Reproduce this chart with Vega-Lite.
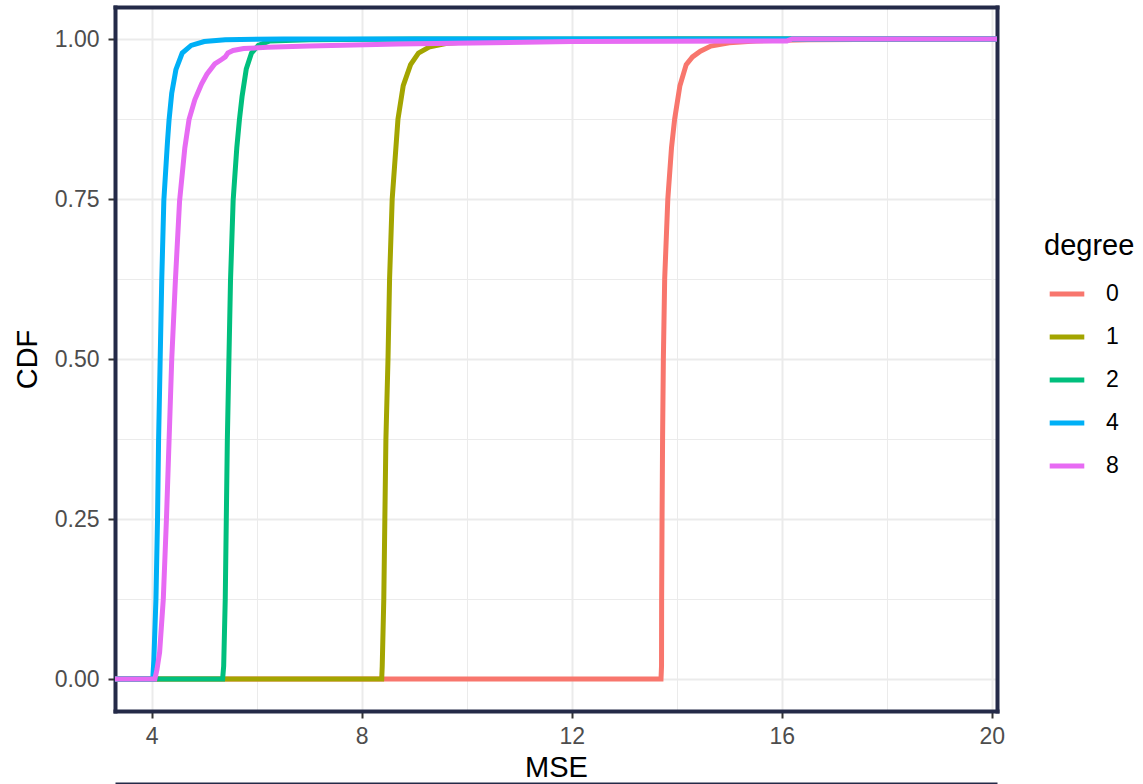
{
  "$schema": "https://vega.github.io/schema/vega-lite/v6.json",
  "width": 882,
  "height": 704,
  "autosize": "none",
  "padding": {"left": 115, "top": 7, "right": 146, "bottom": 73},
  "background": "white",
  "config": {
    "font": "Liberation Sans",
    "view": {"stroke": null},
    "axis": {
      "labelFont": "Liberation Sans",
      "titleFont": "Liberation Sans",
      "labelFontSize": 23,
      "labelColor": "#4d4d4d",
      "titleFontSize": 29,
      "titleFontWeight": "normal",
      "titleColor": "#000000",
      "domain": true,
      "domainColor": "#242a48",
      "domainWidth": 4,
      "domainCap": "square",
      "tickWidth": 2,
      "tickSize": 7,
      "gridColor": "#ebebeb",
      "zindex": 1
    },
    "legend": {
      "labelFont": "Liberation Sans",
      "titleFont": "Liberation Sans"
    }
  },
  "data": {
    "values": [
      {"degree": "0", "MSE": 3.0, "CDF": 0},
      {"degree": "0", "MSE": 13.70, "CDF": 0},
      {"degree": "0", "MSE": 13.71, "CDF": 0.02},
      {"degree": "0", "MSE": 13.712, "CDF": 0.125},
      {"degree": "0", "MSE": 13.72, "CDF": 0.25},
      {"degree": "0", "MSE": 13.73, "CDF": 0.374},
      {"degree": "0", "MSE": 13.745, "CDF": 0.5},
      {"degree": "0", "MSE": 13.77, "CDF": 0.625},
      {"degree": "0", "MSE": 13.83, "CDF": 0.75},
      {"degree": "0", "MSE": 13.90, "CDF": 0.83},
      {"degree": "0", "MSE": 13.96, "CDF": 0.875},
      {"degree": "0", "MSE": 14.06, "CDF": 0.927},
      {"degree": "0", "MSE": 14.18, "CDF": 0.96},
      {"degree": "0", "MSE": 14.30, "CDF": 0.972},
      {"degree": "0", "MSE": 14.45, "CDF": 0.981},
      {"degree": "0", "MSE": 14.65, "CDF": 0.989},
      {"degree": "0", "MSE": 15.0, "CDF": 0.994},
      {"degree": "0", "MSE": 15.5, "CDF": 0.997},
      {"degree": "0", "MSE": 16.5, "CDF": 0.999},
      {"degree": "0", "MSE": 19.3, "CDF": 1},
      {"degree": "0", "MSE": 21, "CDF": 1},
      {"degree": "1", "MSE": 3.0, "CDF": 0},
      {"degree": "1", "MSE": 8.38, "CDF": 0},
      {"degree": "1", "MSE": 8.39, "CDF": 0.02},
      {"degree": "1", "MSE": 8.42, "CDF": 0.125},
      {"degree": "1", "MSE": 8.44, "CDF": 0.25},
      {"degree": "1", "MSE": 8.46, "CDF": 0.374},
      {"degree": "1", "MSE": 8.50, "CDF": 0.5},
      {"degree": "1", "MSE": 8.53, "CDF": 0.625},
      {"degree": "1", "MSE": 8.58, "CDF": 0.75},
      {"degree": "1", "MSE": 8.69, "CDF": 0.875},
      {"degree": "1", "MSE": 8.79, "CDF": 0.927},
      {"degree": "1", "MSE": 8.93, "CDF": 0.96},
      {"degree": "1", "MSE": 9.08, "CDF": 0.978},
      {"degree": "1", "MSE": 9.3, "CDF": 0.988},
      {"degree": "1", "MSE": 9.6, "CDF": 0.993},
      {"degree": "1", "MSE": 10.2, "CDF": 0.997},
      {"degree": "1", "MSE": 11.5, "CDF": 0.999},
      {"degree": "1", "MSE": 14, "CDF": 1},
      {"degree": "1", "MSE": 21, "CDF": 1},
      {"degree": "2", "MSE": 3.0, "CDF": 0},
      {"degree": "2", "MSE": 5.35, "CDF": 0},
      {"degree": "2", "MSE": 5.37, "CDF": 0.02},
      {"degree": "2", "MSE": 5.40, "CDF": 0.125},
      {"degree": "2", "MSE": 5.42, "CDF": 0.25},
      {"degree": "2", "MSE": 5.44, "CDF": 0.374},
      {"degree": "2", "MSE": 5.47, "CDF": 0.5},
      {"degree": "2", "MSE": 5.50, "CDF": 0.622},
      {"degree": "2", "MSE": 5.55, "CDF": 0.747},
      {"degree": "2", "MSE": 5.62, "CDF": 0.83},
      {"degree": "2", "MSE": 5.67, "CDF": 0.874},
      {"degree": "2", "MSE": 5.72, "CDF": 0.91},
      {"degree": "2", "MSE": 5.80, "CDF": 0.953},
      {"degree": "2", "MSE": 5.90, "CDF": 0.978},
      {"degree": "2", "MSE": 6.03, "CDF": 0.99},
      {"degree": "2", "MSE": 6.25, "CDF": 0.997},
      {"degree": "2", "MSE": 7.0, "CDF": 0.999},
      {"degree": "2", "MSE": 9.0, "CDF": 1},
      {"degree": "2", "MSE": 21, "CDF": 1},
      {"degree": "4", "MSE": 3.0, "CDF": 0},
      {"degree": "4", "MSE": 4.02, "CDF": 0},
      {"degree": "4", "MSE": 4.04, "CDF": 0.03},
      {"degree": "4", "MSE": 4.08, "CDF": 0.125},
      {"degree": "4", "MSE": 4.11, "CDF": 0.25},
      {"degree": "4", "MSE": 4.13, "CDF": 0.373},
      {"degree": "4", "MSE": 4.16, "CDF": 0.498},
      {"degree": "4", "MSE": 4.19, "CDF": 0.622},
      {"degree": "4", "MSE": 4.23, "CDF": 0.747},
      {"degree": "4", "MSE": 4.30, "CDF": 0.84},
      {"degree": "4", "MSE": 4.33, "CDF": 0.874},
      {"degree": "4", "MSE": 4.38, "CDF": 0.915},
      {"degree": "4", "MSE": 4.46, "CDF": 0.952},
      {"degree": "4", "MSE": 4.58, "CDF": 0.978},
      {"degree": "4", "MSE": 4.75, "CDF": 0.99},
      {"degree": "4", "MSE": 5.0, "CDF": 0.996},
      {"degree": "4", "MSE": 5.4, "CDF": 0.999},
      {"degree": "4", "MSE": 6.5, "CDF": 1},
      {"degree": "4", "MSE": 21, "CDF": 1},
      {"degree": "8", "MSE": 3.0, "CDF": 0},
      {"degree": "8", "MSE": 4.06, "CDF": 0},
      {"degree": "8", "MSE": 4.10, "CDF": 0.015},
      {"degree": "8", "MSE": 4.15, "CDF": 0.042},
      {"degree": "8", "MSE": 4.22, "CDF": 0.125},
      {"degree": "8", "MSE": 4.28, "CDF": 0.25},
      {"degree": "8", "MSE": 4.33, "CDF": 0.373},
      {"degree": "8", "MSE": 4.38, "CDF": 0.498},
      {"degree": "8", "MSE": 4.45, "CDF": 0.622},
      {"degree": "8", "MSE": 4.53, "CDF": 0.747},
      {"degree": "8", "MSE": 4.63, "CDF": 0.83},
      {"degree": "8", "MSE": 4.71, "CDF": 0.874},
      {"degree": "8", "MSE": 4.82, "CDF": 0.905},
      {"degree": "8", "MSE": 4.95, "CDF": 0.93},
      {"degree": "8", "MSE": 5.05, "CDF": 0.945},
      {"degree": "8", "MSE": 5.20, "CDF": 0.961},
      {"degree": "8", "MSE": 5.33, "CDF": 0.968},
      {"degree": "8", "MSE": 5.40, "CDF": 0.972},
      {"degree": "8", "MSE": 5.45, "CDF": 0.978},
      {"degree": "8", "MSE": 5.55, "CDF": 0.982},
      {"degree": "8", "MSE": 5.75, "CDF": 0.985},
      {"degree": "8", "MSE": 6.2, "CDF": 0.987},
      {"degree": "8", "MSE": 7.0, "CDF": 0.989},
      {"degree": "8", "MSE": 8.7, "CDF": 0.992},
      {"degree": "8", "MSE": 12.0, "CDF": 0.996},
      {"degree": "8", "MSE": 16.1, "CDF": 0.997},
      {"degree": "8", "MSE": 16.2, "CDF": 1},
      {"degree": "8", "MSE": 21, "CDF": 1}
    ]
  },
  "layer": [
    {
      "mark": {"type": "line", "strokeWidth": 5, "clip": true},
      "encoding": {
        "x": {
          "field": "MSE",
          "type": "quantitative",
          "scale": {"domain": [3.30, 20.10], "nice": false, "zero": false},
          "axis": {
            "title": "MSE",
            "values": [4, 6, 8, 10, 12, 14, 16, 18, 20],
            "labelExpr": "datum.value % 4 === 0 ? datum.label : ''",
            "labelPadding": 7,
            "titlePadding": 5,
            "gridWidth": {"condition": {"test": "datum.value % 4 === 0", "value": 2}, "value": 1},
            "tickColor": {"condition": {"test": "datum.value % 4 === 0", "value": "#333333"}, "value": "transparent"}
          }
        },
        "y": {
          "field": "CDF",
          "type": "quantitative",
          "scale": {"domain": [-0.05, 1.05], "nice": false, "zero": false},
          "axis": {
            "title": "CDF",
            "values": [0, 0.125, 0.25, 0.375, 0.5, 0.625, 0.75, 0.875, 1],
            "format": ".2f",
            "labelExpr": "(datum.value * 4) % 1 === 0 ? datum.label : ''",
            "labelPadding": 9,
            "titlePadding": 12,
            "gridWidth": {"condition": {"test": "(datum.value * 4) % 1 === 0", "value": 2}, "value": 1},
            "tickColor": {"condition": {"test": "(datum.value * 4) % 1 === 0", "value": "#333333"}, "value": "transparent"}
          }
        },
        "color": {
          "field": "degree",
          "type": "nominal",
          "scale": {
            "domain": ["0", "1", "2", "4", "8"],
            "range": ["#F8766D", "#A3A500", "#00BF7D", "#00B0F6", "#E76BF3"]
          },
          "legend": {
            "orient": "none",
            "legendX": 929,
            "legendY": 225,
            "title": "degree",
            "titleFontSize": 29,
            "titleFontWeight": "normal",
            "titleColor": "#000000",
            "titlePadding": 13,
            "labelFontSize": 23,
            "labelColor": "#000000",
            "symbolType": "stroke",
            "symbolSize": 1197,
            "symbolStrokeWidth": 5,
            "symbolOffset": 3,
            "labelOffset": 19,
            "rowPadding": 11,
            "padding": 0
          }
        }
      }
    },
    {
      "mark": {"type": "line", "opacity": 0},
      "encoding": {
        "x": {
          "field": "MSE",
          "type": "quantitative",
          "axis": {
            "orient": "top",
            "ticks": false,
            "labels": false,
            "grid": false,
            "title": null
          }
        },
        "y": {
          "field": "CDF",
          "type": "quantitative",
          "axis": {
            "orient": "right",
            "ticks": false,
            "labels": false,
            "grid": false,
            "title": null
          }
        },
        "detail": {"field": "degree"}
      }
    },
    {
      "mark": {"type": "line", "opacity": 0},
      "encoding": {
        "x": {
          "field": "MSE",
          "type": "quantitative",
          "axis": {
            "orient": "bottom",
            "offset": 72,
            "domainWidth": 2,
            "domainCap": "butt",
            "ticks": false,
            "labels": false,
            "grid": false,
            "title": null
          }
        },
        "y": {"field": "CDF", "type": "quantitative", "axis": null},
        "detail": {"field": "degree"}
      }
    }
  ],
  "resolve": {"axis": {"x": "independent", "y": "independent"}}
}
